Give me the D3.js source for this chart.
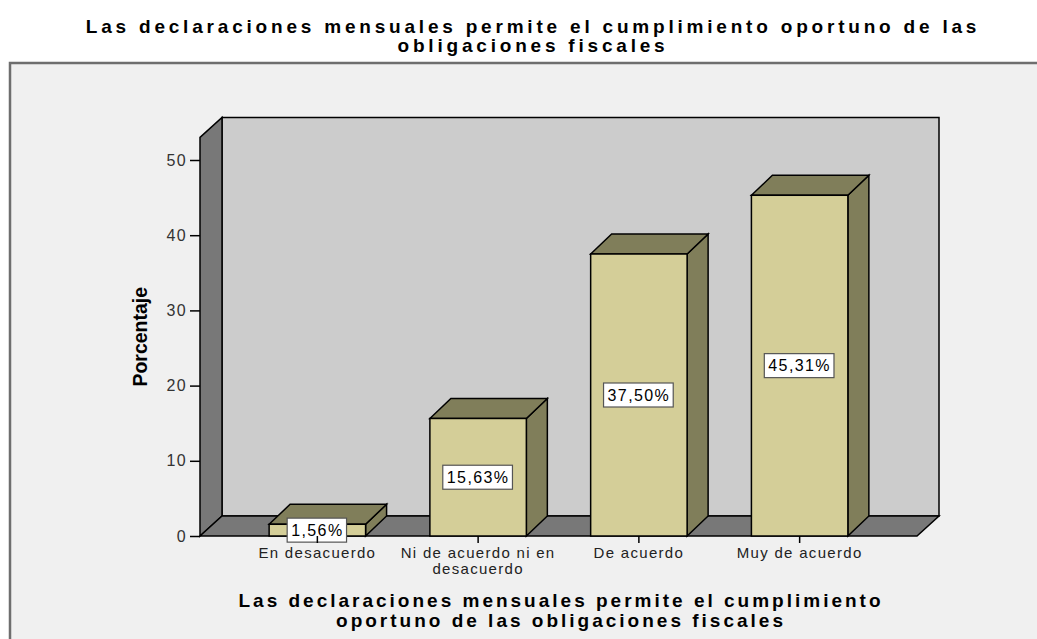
<!DOCTYPE html>
<html>
<head>
<meta charset="utf-8">
<script src="https://cdn.jsdelivr.net/npm/d3@7"></script>
<style>
  body { margin: 0; background: #ffffff; }
  text { font-family: "Liberation Sans", Arial, sans-serif; }
</style>
</head>
<body>
<div id="chart"></div>
<script>
// data
var categories = ["En desacuerdo", "Ni de acuerdo ni en desacuerdo", "De acuerdo", "Muy de acuerdo"];
var percentages = [1.56, 15.63, 37.50, 45.31];
var yTicks = [0, 10, 20, 30, 40, 50];
var titleLines = ["Las declaraciones mensuales permite el cumplimiento oportuno de las", "obligaciones fiscales"];
var xTitleLines = ["Las declaraciones mensuales permite el cumplimiento", "oportuno de las obligaciones fiscales"];
var yTitle = "Porcentaje";

var W = 1037, H = 639;
var wallDx = 22, wallDy = -20;   // depth of the 3d walls
var barDx = 21, barDy = -20;     // depth of the bars

var svg = d3.select("#chart")
    .append("svg")
    .attr("width", W)
    .attr("height", H);

// chart frame
svg.append("rect")
    .attr("x", 10).attr("y", 63)
    .attr("width", W + 20).attr("height", H)
    .attr("fill", "#f0f0f0")
    .attr("stroke", "#6e6e6e")
    .attr("stroke-width", 2.5);

// title
svg.selectAll(".title")
    .data(titleLines)
    .enter()
    .append("text")
    .attr("class", "title")
    .attr("x", 533)
    .attr("y", function(d, i) { return 33 + i * 19; })
    .attr("text-anchor", "middle")
    .style("font-size", "19px")
    .style("font-weight", "bold")
    .style("letter-spacing", "3.8px")
    .attr("fill", "#000")
    .text(function(d) { return d; });

// scales
var y = d3.scaleLinear()
    .domain([0, 50])
    .range([536, 160]);

var x = d3.scaleBand()
    .domain(categories)
    .range([200, 917])
    .paddingInner(0.4)
    .paddingOuter(0.43);

var y0 = y(0), yTop = y(53);
var xL = x.range()[0], xR = x.range()[1];

// walls and floor
var line = d3.line();
svg.append("path")   // back wall
    .attr("d", line([[xL + wallDx, yTop + wallDy], [xR + wallDx, yTop + wallDy], [xR + wallDx, y0 + wallDy], [xL + wallDx, y0 + wallDy]]) + "Z")
    .attr("fill", "#cccccc").attr("stroke", "#000").attr("stroke-width", 1.5);
svg.append("path")   // left wall
    .attr("d", line([[xL, y0], [xL, yTop], [xL + wallDx, yTop + wallDy], [xL + wallDx, y0 + wallDy]]) + "Z")
    .attr("fill", "#787878").attr("stroke", "#000").attr("stroke-width", 1.5);
svg.append("path")   // floor
    .attr("d", line([[xL, y0], [xL + wallDx, y0 + wallDy], [xR + wallDx, y0 + wallDy], [xR, y0]]) + "Z")
    .attr("fill", "#787878").attr("stroke", "#000").attr("stroke-width", 1.5);

// bars
var bars = svg.selectAll(".bar")
    .data(percentages)
    .enter()
    .append("g")
    .attr("class", "bar");

bars.append("path")   // side
    .attr("d", function(d, i) {
        var x1 = x(categories[i]) + x.bandwidth(), yv = y(d);
        return line([[x1, yv], [x1 + barDx, yv + barDy], [x1 + barDx, y0 + barDy], [x1, y0]]) + "Z";
    })
    .attr("fill", "#807e5a").attr("stroke", "#000").attr("stroke-width", 1.5);

bars.append("path")   // top
    .attr("d", function(d, i) {
        var x0 = x(categories[i]), x1 = x0 + x.bandwidth(), yv = y(d);
        return line([[x0, yv], [x0 + barDx, yv + barDy], [x1 + barDx, yv + barDy], [x1, yv]]) + "Z";
    })
    .attr("fill", "#807e5a").attr("stroke", "#000").attr("stroke-width", 1.5);

bars.append("rect")   // front
    .attr("x", function(d, i) { return x(categories[i]); })
    .attr("y", function(d) { return y(d); })
    .attr("width", x.bandwidth())
    .attr("height", function(d) { return y0 - y(d); })
    .attr("fill", "#d4ce98").attr("stroke", "#000").attr("stroke-width", 1.5);

// value labels in boxes at half height
var labels = bars.append("g")
    .attr("transform", function(d, i) {
        return "translate(" + (x(categories[i]) + x.bandwidth() / 2) + "," + y(d / 2) + ")";
    });
labels.append("text")
    .attr("text-anchor", "middle")
    .attr("dy", "0.36em")
    .style("font-size", "16px")
    .style("letter-spacing", "1.4px")
    .attr("fill", "#000")
    .text(function(d) { return d.toFixed(2).replace(".", ",") + "%"; });
labels.each(function() {
    var g = d3.select(this), t = g.select("text").node().getBBox();
    g.insert("rect", "text")
        .attr("x", t.x - 4).attr("y", -12)
        .attr("width", t.width + 7).attr("height", 24)
        .attr("fill", "#fff").attr("stroke", "#555").attr("stroke-width", 1.2);
});

// y axis
var yAxis = svg.append("g")
    .attr("transform", "translate(" + xL + ",0)")
    .call(d3.axisLeft(y).tickValues(yTicks).tickSize(10).tickPadding(3));
yAxis.select(".domain").remove();
yAxis.selectAll("line").attr("stroke", "#000").attr("stroke-width", 1.5);
yAxis.selectAll("text")
    .style("font-size", "16px")
    .style("letter-spacing", "1.3px")
    .style("font-family", "'Liberation Sans', Arial, sans-serif")
    .attr("fill", "#333");

// x axis
var xAxis = svg.append("g")
    .attr("transform", "translate(0," + y0 + ")")
    .call(d3.axisBottom(x).tickSize(7).tickPadding(4));
xAxis.select(".domain").remove();
xAxis.selectAll("line").attr("stroke", "#000").attr("stroke-width", 1.5);
xAxis.selectAll("text")
    .style("font-size", "15px")
    .style("letter-spacing", "1.3px")
    .style("font-family", "'Liberation Sans', Arial, sans-serif")
    .attr("fill", "#222")
    .call(wrap, x.step());

function wrap(sel, width) {
    sel.each(function() {
        var text = d3.select(this),
            words = text.text().split(/\s+/),
            yy = text.attr("y"),
            dy = parseFloat(text.attr("dy")),
            lineNo = 0,
            cur = [],
            tspan = text.text(null).append("tspan").attr("x", 0).attr("y", yy).attr("dy", dy + "em");
        words.forEach(function(w) {
            cur.push(w);
            tspan.text(cur.join(" "));
            if (tspan.node().getComputedTextLength() > width && cur.length > 1) {
                cur.pop();
                tspan.text(cur.join(" "));
                cur = [w];
                tspan = text.append("tspan").attr("x", 0).attr("y", yy)
                    .attr("dy", (++lineNo * 1.1 + dy) + "em").text(w);
            }
        });
    });
}

// axis titles
svg.append("text")
    .attr("transform", "translate(147," + y(26.5) + ") rotate(-90)")
    .attr("text-anchor", "middle")
    .style("font-size", "19.5px")
    .style("font-weight", "bold")
    .attr("fill", "#000")
    .text(yTitle);

svg.selectAll(".xtitle")
    .data(xTitleLines)
    .enter()
    .append("text")
    .attr("class", "xtitle")
    .attr("x", 561)
    .attr("y", function(d, i) { return 607 + i * 20; })
    .attr("text-anchor", "middle")
    .style("font-size", "19px")
    .style("font-weight", "bold")
    .style("letter-spacing", "3px")
    .attr("fill", "#000")
    .text(function(d) { return d; });
</script>
</body>
</html>
